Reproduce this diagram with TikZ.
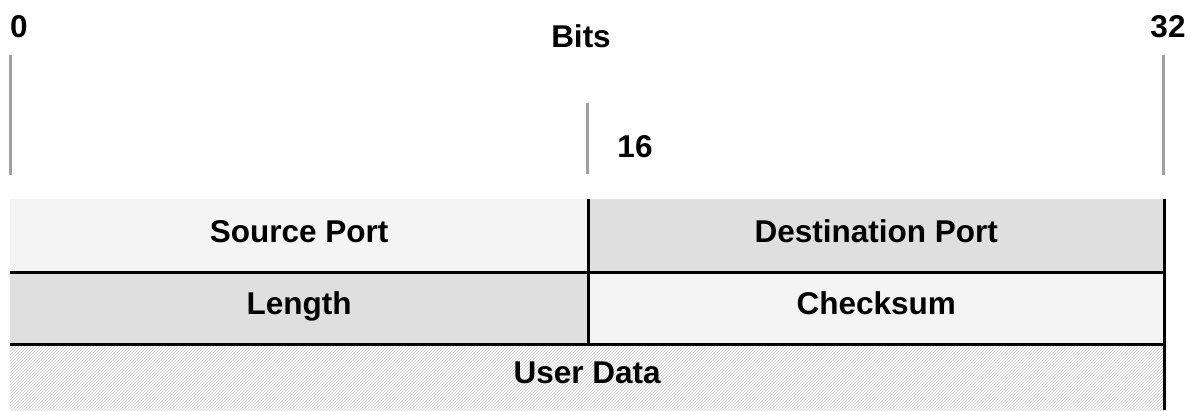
\documentclass[tikz,border=0pt]{standalone}
\usepackage{fontspec}
\setmainfont{Liberation Sans}
\usetikzlibrary{patterns}
\definecolor{cellA}{HTML}{F4F4F4}
\definecolor{cellB}{HTML}{DFDFDF}
\definecolor{tick}{HTML}{A0A0A0}
\definecolor{hatch}{HTML}{CCCCCC}
\tikzset{
  lbl/.style={inner sep=0pt, text height=23pt, text depth=0pt,
    font=\fontsize{31.5}{31.5}\selectfont\bfseries},
  cell/.style={draw=none, inner sep=0pt, anchor=north west, lbl, text depth=10pt},
  ruler/.style={draw=tick, line width=3pt},
  rule/.style={draw=black, line width=3pt}
}
\begin{document}
\begin{tikzpicture}[x=1pt, y=-1pt]
  \useasboundingbox (0,0) rectangle (1195,410);
  % bit labels
  \node[lbl] (b0) at (19,26) {0};
  \node[lbl] (b32) at (1168,26) {32};
  \node[lbl] (bits) at (581,36) {Bits};
  \node[lbl] (b16) at (635,146) {16};
  % ruler ticks
  \coordinate (t0a) at (10,55);   \coordinate (t0b) at (10,175);
  \coordinate (t32a) at (1163,55); \coordinate (t32b) at (1163,175);
  \coordinate (t16a) at (587,103); \coordinate (t16b) at (587,174);
  \draw[ruler] (t0a) -- (t0b);
  \draw[ruler] (t32a) -- (t32b);
  \draw[ruler] (t16a) -- (t16b);
  % header cells
  \node[cell, fill=cellA, minimum width=578pt, minimum height=73pt] (src) at (10,199) {Source Port};
  \node[cell, fill=cellB, minimum width=576pt, minimum height=73pt] (dst) at (588,199) {Destination Port};
  \node[cell, fill=cellB, minimum width=578pt, minimum height=72pt] (len) at (10,272) {Length};
  \node[cell, fill=cellA, minimum width=576pt, minimum height=72pt] (chk) at (588,272) {Checksum};
  \node[cell, fill=white, minimum width=1154pt, minimum height=66pt] (data) at (10,344) {};
  \fill[pattern=north east lines, pattern color=hatch] (data.north west) rectangle (data.south east);
  \node[lbl, text depth=10pt] (datalbl) at (data.center) {User Data};
  % black separators
  \draw[rule] (src.south west) -- (dst.south east);
  \draw[rule] (len.south west) -- (chk.south east);
  \draw[rule] (src.north east) -- (len.south east);
  \draw[rule] (dst.north east) -- (data.south east);
\end{tikzpicture}
\end{document}
